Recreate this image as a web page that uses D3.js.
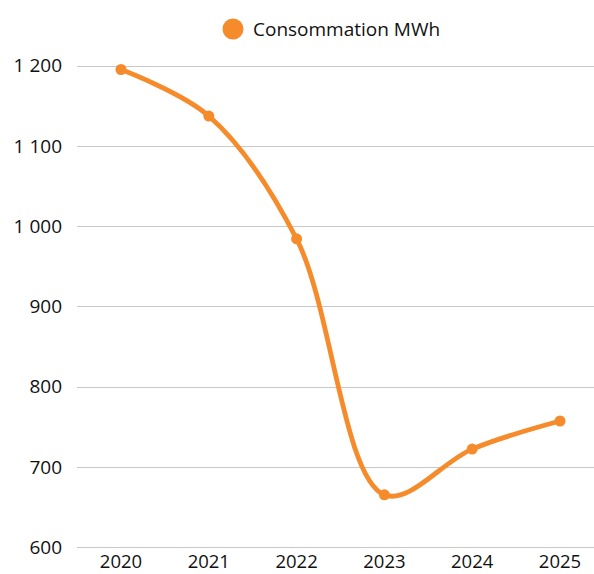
<!DOCTYPE html>
<html><head><meta charset="utf-8">
<script src="https://cdn.jsdelivr.net/npm/d3@7"></script>
<style>body{margin:0;background:#fff}svg{display:block}text{font-family:"Open Sans",sans-serif;fill:#111}</style>
</head><body>
<svg id="c" width="594" height="574"></svg>
<script>
const categories = ["2020","2021","2022","2023","2024","2025"];
const values = [1195, 1137, 984, 665, 722, 757];
const yTicks = [600,700,800,900,1000,1100,1200];
const seriesName = "Consommation MWh";
const color = "#f58b2b";

const svg = d3.select("#c");
const x = d3.scalePoint().domain(categories).range([121, 560]);
const y = d3.scaleLinear().domain([600,1200]).range([547, 65.5]);
const fmt = v => d3.format(",")(v).replace(",", " ");

// grid
svg.append("g").selectAll("line").data(yTicks).join("line")
  .attr("x1", 77).attr("x2", 594)
  .attr("y1", d => Math.round(y(d))+0.5).attr("y2", d => Math.round(y(d))+0.5)
  .attr("stroke", "#c8c8c8").attr("stroke-width", 1);

svg.append("g").selectAll("text").data(yTicks).join("text")
  .attr("x", 62).attr("y", d => y(d)).attr("dy", "0.36em")
  .attr("text-anchor", "end").attr("font-size", 19).text(fmt);

svg.append("g").selectAll("text").data(categories).join("text")
  .attr("x", d => x(d)).attr("y", 568)
  .attr("text-anchor", "middle").attr("font-size", 18.5).text(d => d);

const line = d3.line().x((d,i) => x(categories[i])).y(d => y(d)).curve(d3.curveCatmullRom.alpha(0.5));
svg.append("path").datum(values).attr("d", line)
  .attr("fill", "none").attr("stroke", color).attr("stroke-width", 4.8);

svg.append("g").selectAll("circle").data(values).join("circle")
  .attr("cx", (d,i) => x(categories[i])).attr("cy", d => y(d)).attr("r", 5.5).attr("fill", color);

// legend
svg.append("circle").attr("cx", 233).attr("cy", 29).attr("r", 10.5).attr("fill", color);
svg.append("text").attr("x", 253).attr("y", 29).attr("dy", "0.36em").attr("font-size", 19).text(seriesName);
</script>
</body></html>
